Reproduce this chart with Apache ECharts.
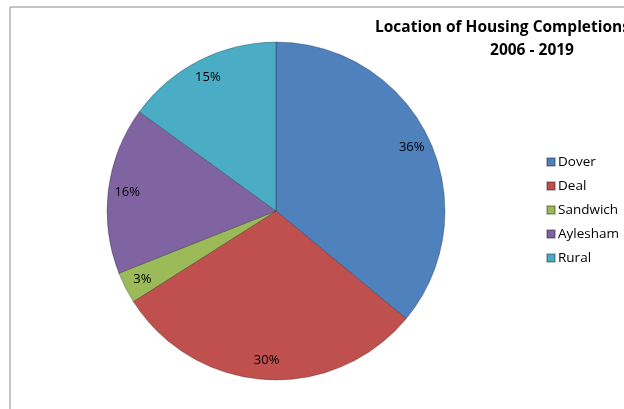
<!DOCTYPE html>
<html>
	<head>
		<meta charset="UTF-8">
		<title>Location of Housing Completions</title>
		<style>
			html, body { margin: 0; padding: 0; background: #fff; }
			#chart { width: 624px; height: 409px; }
		</style>
	</head>
	<body>
		<div id="chart"></div>
		<script src="https://cdn.jsdelivr.net/npm/echarts@6/dist/echarts.min.js"></script>
		<script>
			// data
			var areas = ['Dover', 'Deal', 'Sandwich', 'Aylesham', 'Rural'];
			var shares = [36, 30, 3, 16, 15];
			var colors = ['#4F81BD', '#C0504D', '#9BBB59', '#8064A2', '#4BACC6'];

			var chart = echarts.init(document.getElementById('chart'));

			var pieData = areas.map(function(name, i) {
				return { name: name, value: shares[i], itemStyle: { color: colors[i] } };
			});
			// transparent copy, only used to put the % labels near the rim
			var labelData = areas.map(function(name, i) {
				return { name: name, value: shares[i] };
			});

			var titleFont = {
				fontFamily: 'Open Sans',
				fontWeight: 'bold',
				fontSize: 15.5,
				color: '#000'
			};

			var option = {
				backgroundColor: '#fff',
				animation: false,
				title: [{
					text: 'Location of Housing Completions',
					left: 375,
					top: 20,
					padding: 0,
					textStyle: titleFont
				}, {
					text: '2006 - 2019',
					left: 532,
					top: 43,
					padding: 0,
					textAlign: 'center',
					textStyle: titleFont
				}],
				legend: {
					orient: 'vertical',
					left: 546,
					top: 153,
					padding: 0,
					itemWidth: 8,
					itemHeight: 8,
					itemGap: 6,
					icon: 'rect',
					data: areas,
					textStyle: {
						fontFamily: 'Open Sans',
						fontSize: 13.5,
						lineHeight: 18,
						color: '#000',
						padding: [0, 0, 0, -2]
					}
				},
				graphic: [{
					type: 'polyline',
					shape: { points: [[10, 409], [10, 7], [624, 7]] },
					style: { stroke: '#8c8c8c', lineWidth: 1, fill: 'none' },
					silent: true
				}],
				series: [{
					type: 'pie',
					center: [276, 211],
					radius: [0, 169],
					startAngle: 90,
					clockwise: true,
					label: { show: false },
					labelLine: { show: false },
					itemStyle: {
						borderColor: 'rgba(0,0,0,0.25)',
						borderWidth: 1
					},
					emphasis: { disabled: true },
					data: pieData
				}, {
					type: 'pie',
					center: [276, 211],
					radius: [125, 169],
					startAngle: 90,
					clockwise: true,
					silent: true,
					legendHoverLink: false,
					itemStyle: { color: 'transparent' },
					label: {
						show: true,
						position: 'inside',
						formatter: '{c}%',
						fontFamily: 'Open Sans',
						fontSize: 13,
						color: '#000'
					},
					labelLine: { show: false },
					data: labelData
				}]
			};
			chart.setOption(option);
		</script>
	</body>
</html>
